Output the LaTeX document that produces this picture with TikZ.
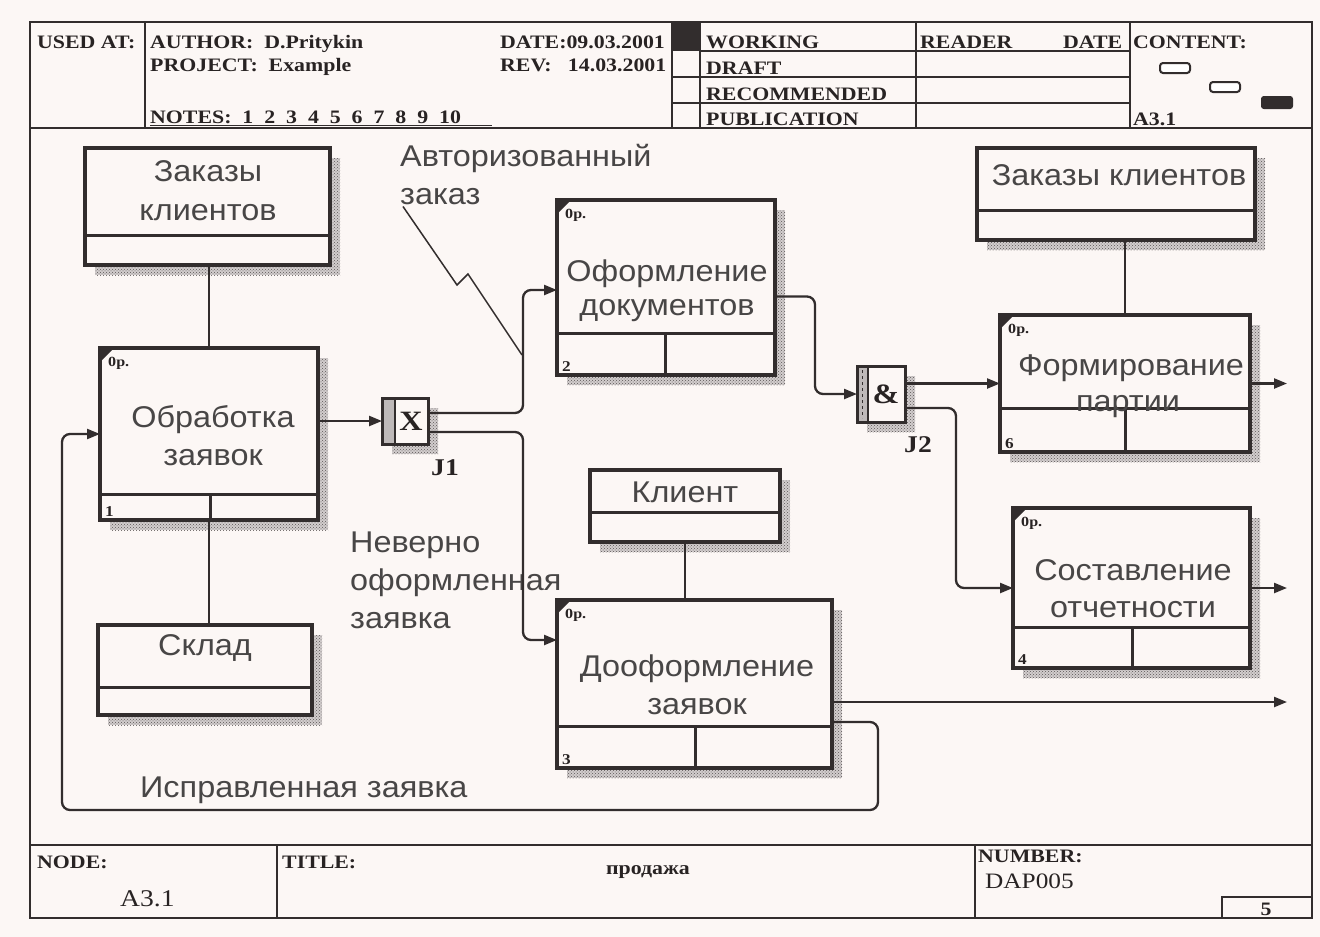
\documentclass[tikz,border=0pt]{standalone}
\usepackage{fontspec}
\setmainfont{Liberation Sans}
\newfontfamily\hdrfont[FakeStretch=1.15]{Liberation Serif}
\newfontfamily\labfont[FakeStretch=1.08]{Liberation Sans}
\usetikzlibrary{patterns,backgrounds,calc,arrows.meta}
\definecolor{bgc}{RGB}{252,247,245}
\definecolor{ln}{RGB}{50,45,45}
\definecolor{txt}{RGB}{72,70,70}
\definecolor{hdr}{RGB}{40,35,35}
\definecolor{shd}{RGB}{90,85,85}
\definecolor{shdbg}{RGB}{210,205,205}
\definecolor{strip}{RGB}{190,185,185}
\tikzset{
  frame/.style={draw=ln, line width=2.5pt},
  hline/.style={draw=ln, line width=2pt},
  actbox/.style={draw=ln, line width=3.5pt, fill=bgc, inner sep=0, outer sep=0, anchor=north west},
  lbl/.style={font=\labfont\fontsize{30}{36}\selectfont, text=txt, inner sep=0, anchor=base},
  lbll/.style={lbl, anchor=base west},
  htxt/.style={font=\hdrfont\bfseries\fontsize{19}{22}\selectfont, text=hdr, inner sep=0, anchor=base west},
  optxt/.style={font=\hdrfont\bfseries\fontsize{14}{14}\selectfont, text=hdr, anchor=north west, inner sep=0},
  numtxt/.style={font=\hdrfont\bfseries\fontsize{15}{15}\selectfont, text=hdr, anchor=south west, inner sep=0},
  conn/.style={draw=ln, line width=2.3pt, rounded corners=8pt},
  arr/.style={conn, -{Triangle[length=13pt,width=10pt]}},
  shadowfill/.style={preaction={fill=shdbg}, pattern=crosshatch dots, pattern color=shd},
  jbox/.style={draw=ln, line width=3pt, fill=bgc, inner sep=0, outer sep=0, anchor=north west},
  jlbl/.style={font=\hdrfont\bfseries\fontsize{28}{28}\selectfont, text=hdr, inner sep=0},
}
% name, x1, y1, x2, y2, ydiv, xsplit, number
\newcommand\ActBox[8]{%
  \node[actbox, minimum width={#4-#2}, minimum height={#5-#3}] (#1) at (#2,#3) {};
  \begin{scope}[on background layer]\fill[shadowfill] (#2+10,#3+10) rectangle (#4+10,#5+10);\end{scope}
  \draw[ln, line width=3pt] (#2,#6) -- (#4,#6) (#7,#6) -- (#7,#5);
  \fill[ln] (#2,#3) -- ++(14,0) -- ++(-14,14) -- cycle;
  \node[optxt] (#1op) at (#2+8,#3+9) {0р.};
  \node[numtxt] (#1num) at (#2+5,#5-3) {#8};
}
% name, x1, y1, x2, y2, ydiv
\newcommand\RefBox[6]{%
  \node[actbox, minimum width={#4-#2}, minimum height={#5-#3}] (#1) at (#2,#3) {};
  \begin{scope}[on background layer]\fill[shadowfill] (#2+10,#3+10) rectangle (#4+10,#5+10);\end{scope}
  \draw[ln, line width=3pt] (#2,#6) -- (#4,#6);
}
\begin{document}
\begin{tikzpicture}[x=1pt,y=-1pt]
\useasboundingbox (0,0) rectangle (1320,937);
\begin{scope}[on background layer]\fill[bgc] (0,0) rectangle (1320,937);\end{scope}

% ---------- frame, header, footer
\draw[frame] (30,22) rectangle (1312,918);
\draw[frame] (30,128) -- (1312,128);
\draw[hline] (145,22) -- (145,128) (672,22) -- (672,128) (700,22) -- (700,128)
  (916,22) -- (916,128) (1130,22) -- (1130,128);
\draw[hline] (700,51) -- (1130,51);
\draw[hline] (672,77) -- (1130,77) (672,103) -- (1130,103);
\draw[hline] (30,845) -- (1312,845) (277,845) -- (277,918) (975,845) -- (975,918)
  (1222,918) -- (1222,897) -- (1312,897);
\draw[ln, line width=1pt] (150,125) -- (492,125);

\node[htxt] (usedat) at (37,48) {USED AT:};
\node[htxt] (author) at (150,48) {AUTHOR:\ \ D.Pritykin};
\node[htxt] (project) at (150,71) {PROJECT:\ \ Example};
\node[htxt] (date) at (500,48) {DATE:09.03.2001};
\node[htxt] (rev) at (500,71) {REV:\ \ \ 14.03.2001};
\node[htxt] (notes) at (150,123) {NOTES:\ \ 1\ \ 2\ \ 3\ \ 4\ \ 5\ \ 6\ \ 7\ \ 8\ \ 9\ \ 10};
\fill[ln] (672,22) rectangle (700,51);
\node[htxt] (working) at (706,48) {WORKING};
\node[htxt] (draft) at (706,74) {DRAFT};
\node[htxt] (recom) at (706,100) {RECOMMENDED};
\node[htxt] (public) at (706,125) {PUBLICATION};
\node[htxt] (reader) at (920,48) {READER};
\node[htxt] (rdate) at (1063,48) {DATE};
\node[htxt] (content) at (1133,48) {CONTENT:};
\node[htxt] (cnode) at (1133,125) {A3.1};
\draw[ln, line width=2pt, fill=white, rounded corners=3pt] (1160,63) rectangle (1190,73);
\draw[ln, line width=2pt, fill=white, rounded corners=3pt] (1210,82) rectangle (1240,92);
\draw[ln, line width=2pt, fill=ln, rounded corners=2pt] (1262,97) rectangle (1292,108);

\node[htxt] (nodelbl) at (37,868) {NODE:};
\node[htxt, font=\hdrfont\fontsize{24}{24}\selectfont] (nodeval) at (120,906) {A3.1};
\node[htxt] (titlelbl) at (282,868) {TITLE:};
\node[htxt, anchor=base] (titleval) at (648,874) {продажа};
\node[htxt] (numlbl) at (978,862) {NUMBER:};
\node[htxt, font=\hdrfont\fontsize{22}{22}\selectfont] (numval) at (985,888) {DAP005};
\node[htxt, anchor=base] (pageno) at (1266,915) {5};

% ---------- boxes
\RefBox{rz1}{85}{148}{330}{265}{235}
\RefBox{rz2}{977}{148}{1255}{240}{210}
\RefBox{sk}{98}{625}{312}{715}{687}
\RefBox{kl}{590}{470}{780}{542}{512}
\ActBox{b1}{100}{348}{318}{520}{494}{210}{1}
\ActBox{b2}{557}{200}{775}{375}{333}{665}{2}
\ActBox{b3}{557}{600}{832}{768}{726}{695}{3}
\ActBox{b6}{1000}{315}{1250}{452}{408}{1125}{6}
\ActBox{b4}{1013}{508}{1250}{668}{627}{1132}{4}

% ---------- junctions
\node[jbox, minimum width=46, minimum height=46] (j1) at (382,398) {};
\begin{scope}[on background layer]\fill[shadowfill] (392,408) rectangle (438,454);\end{scope}
\fill[strip] (383.5,399.5) rectangle (394,442.5);
\draw[ln, line width=2pt] (395,398) -- (395,444);
\node[jlbl] (j1x) at (411,421) {X};
\node[jlbl, font=\hdrfont\bfseries\fontsize{24}{24}\selectfont] (j1n) at (445,468) {J1};

\node[jbox, minimum width=48, minimum height=56] (j2) at (857,366) {};
\begin{scope}[on background layer]\fill[shadowfill] (867,376) rectangle (915,432);\end{scope}
\fill[strip] (858.5,367.5) rectangle (867,420.5);
\draw[ln, line width=2pt] (868,366) -- (868,422);
\draw[ln, line width=1pt, dashed] (862.5,370) -- (862.5,418);
\node[jlbl] (j2x) at (886,394) {\&};
\node[jlbl, font=\hdrfont\bfseries\fontsize{24}{24}\selectfont] (j2n) at (918,445) {J2};

% ---------- labels
\node[lbl] (t1a) at (208,181) {Заказы};
\node[lbl] (t1b) at (208,220) {клиентов};
\node[lbl] (t2) at (1119,185) {Заказы клиентов};
\node[lbl] (t3a) at (667,281) {Оформление};
\node[lbl] (t3b) at (667,315) {документов};
\node[lbl] (t4a) at (213,427) {Обработка};
\node[lbl] (t4b) at (213,465) {заявок};
\node[lbl] (t5a) at (1131,375) {Формирование};
\node[lbl] (t5b) at (1128,411) {партии};
\node[lbl] (t6a) at (1133,580) {Составление};
\node[lbl] (t6b) at (1133,617) {отчетности};
\node[lbl] (t7) at (685,502) {Клиент};
\node[lbl] (t8) at (205,655) {Склад};
\node[lbl] (t9a) at (697,676) {Дооформление};
\node[lbl] (t9b) at (697,714) {заявок};
\node[lbll] (avt1) at (400,166) {Авторизованный};
\node[lbll] (avt2) at (400,204) {заказ};
\node[lbll] (nev1) at (350,552) {Неверно};
\node[lbll] (nev2) at (350,590) {оформленная};
\node[lbll] (nev3) at (350,628) {заявка};
\node[lbll] (isp) at (140,797) {Исправленная заявка};

% ---------- connectors
\draw[conn] (rz1.south -| b1.north) -- (b1.north);
\draw[conn] (b1.south) -- (b1.south |- sk.north);
\draw[conn] (kl.south) -- (kl.south |- b3.north);
\draw[conn] (b6.north) -- (b6.north |- rz2.south);

\draw[arr] (b1.east |- j1.west) -- (j1.west);
\draw[arr] ($(j1.east)+(0,-8)$) -| (523,290) -- (b2.west |- 523,290);
\draw[arr] ($(j1.east)+(0,11)$) -| (523,640) -- (b3.west |- 523,640);
\draw[arr] ($(b2.east)+(0,9)$) -| (815,394) -- (j2.west);
\draw[arr] (j2.east |- b6.west) -- (b6.west);
\draw[arr] ($(j2.east)+(0,14)$) -| (956,588) -- (b4.west);
\coordinate (o6) at (1287,383.5);
\coordinate (o4) at (1287,588);
\coordinate (o3) at (1287,702);
\draw[arr] (b6.east) -- (o6);
\draw[arr] (b4.east) -- (o4);
\draw[arr] (b3.east |- o3) -- (o3);
\draw[arr] ($(b3.east)+(0,38)$) -- (878,722) -- (878,810) -- (62,810) -- (62,434) -- (b1.west);

\coordinate (zz) at (522,355);
\draw[ln, line width=1.5pt] (avt2.south west) ++(3,2) -- (457,285) -- (468,274) -- (zz);
\end{tikzpicture}
\end{document}
